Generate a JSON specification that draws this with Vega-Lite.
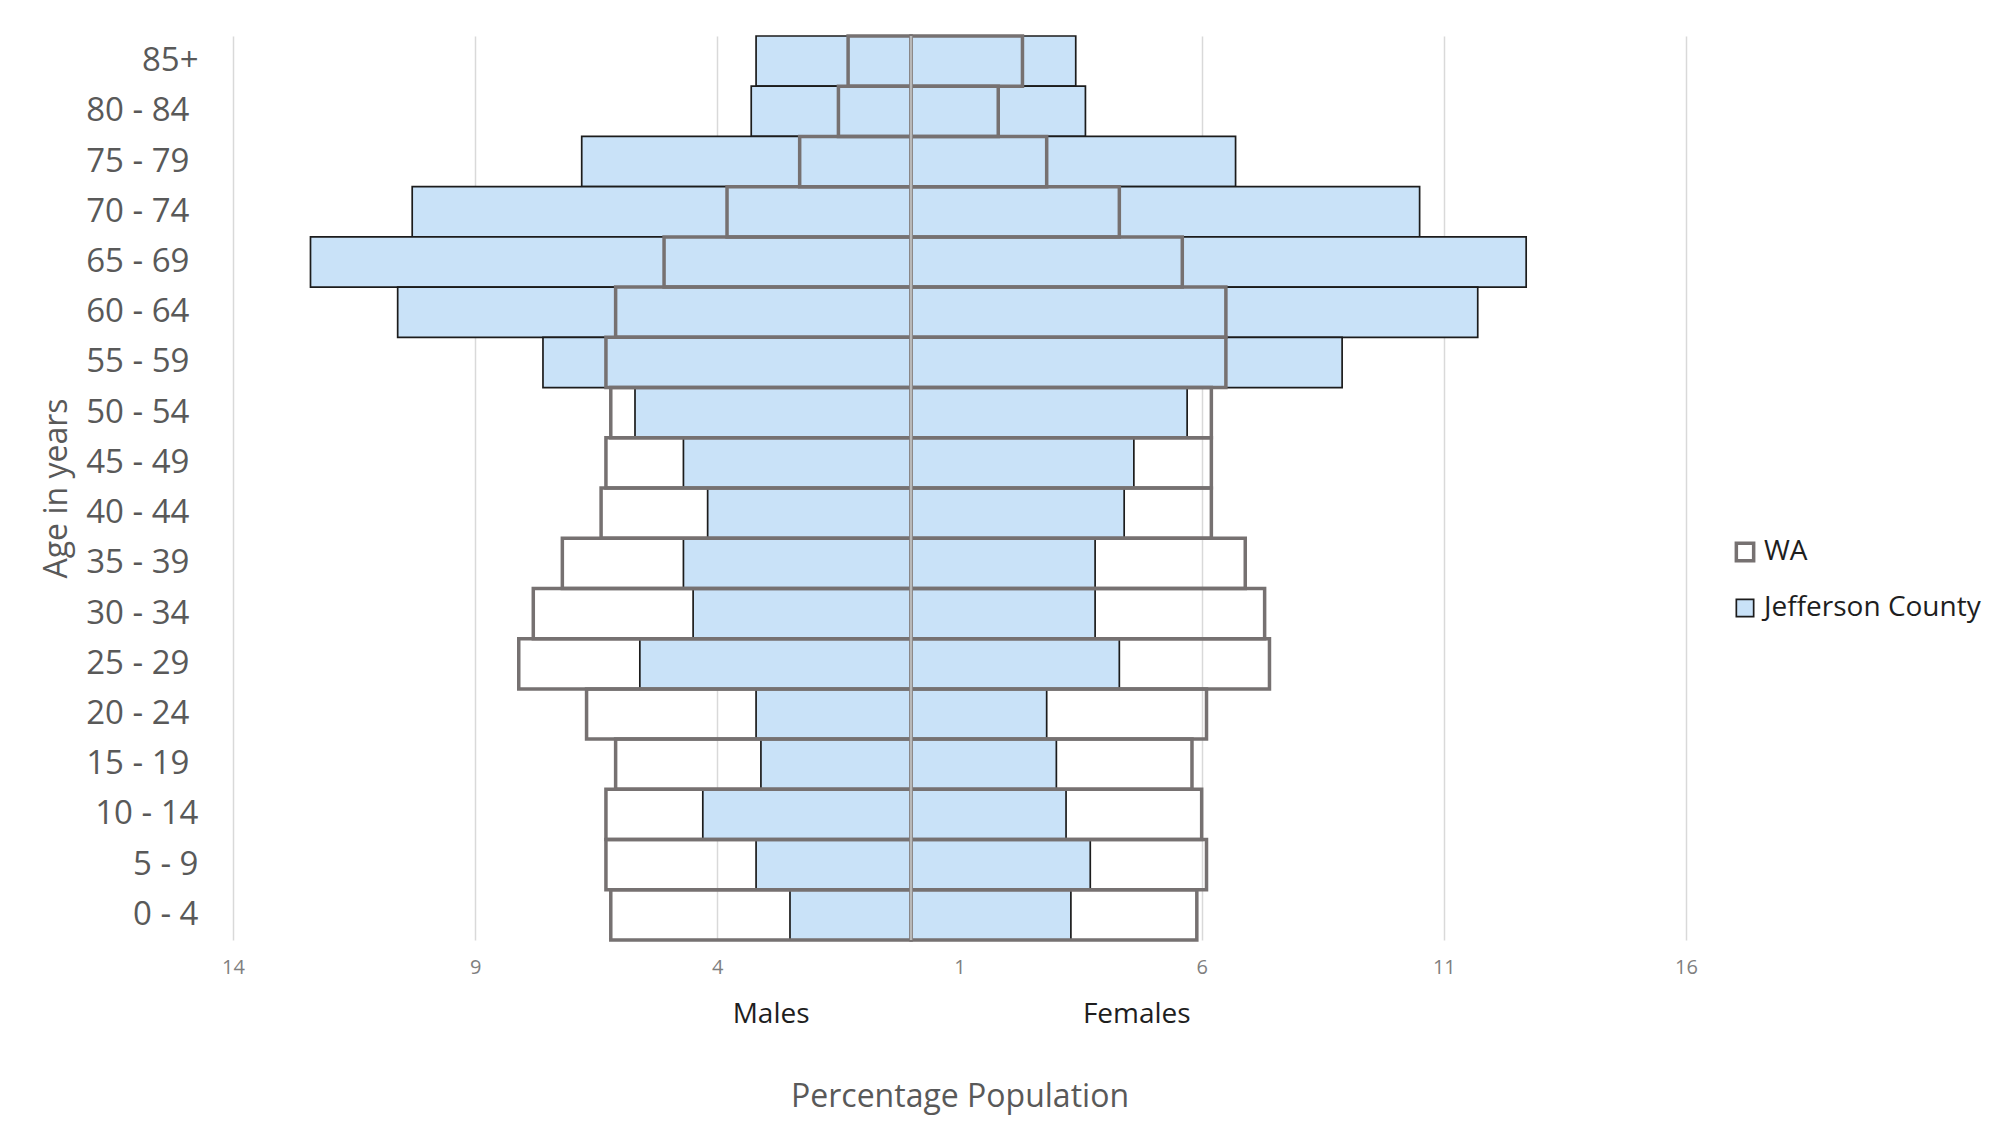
{
  "$schema": "https://vega.github.io/schema/vega-lite/v6.json",
  "width": 1453,
  "height": 904,
  "autosize": {"type": "none"},
  "padding": {"left": 233, "top": 36, "right": 312, "bottom": 200},
  "background": "white",
  "config": {"font": "Open Sans", "view": {"stroke": null}},
  "data": {
    "values": [
      {"age": "85+", "series": "Jefferson County", "sex": "Male", "pct": -3.2},
      {"age": "85+", "series": "Jefferson County", "sex": "Female", "pct": 3.4},
      {"age": "80 - 84", "series": "Jefferson County", "sex": "Male", "pct": -3.3},
      {"age": "80 - 84", "series": "Jefferson County", "sex": "Female", "pct": 3.6},
      {"age": "75 - 79", "series": "Jefferson County", "sex": "Male", "pct": -6.8},
      {"age": "75 - 79", "series": "Jefferson County", "sex": "Female", "pct": 6.7},
      {"age": "70 - 74", "series": "Jefferson County", "sex": "Male", "pct": -10.3},
      {"age": "70 - 74", "series": "Jefferson County", "sex": "Female", "pct": 10.5},
      {"age": "65 - 69", "series": "Jefferson County", "sex": "Male", "pct": -12.4},
      {"age": "65 - 69", "series": "Jefferson County", "sex": "Female", "pct": 12.7},
      {"age": "60 - 64", "series": "Jefferson County", "sex": "Male", "pct": -10.6},
      {"age": "60 - 64", "series": "Jefferson County", "sex": "Female", "pct": 11.7},
      {"age": "55 - 59", "series": "Jefferson County", "sex": "Male", "pct": -7.6},
      {"age": "55 - 59", "series": "Jefferson County", "sex": "Female", "pct": 8.9},
      {"age": "50 - 54", "series": "Jefferson County", "sex": "Male", "pct": -5.7},
      {"age": "50 - 54", "series": "Jefferson County", "sex": "Female", "pct": 5.7},
      {"age": "45 - 49", "series": "Jefferson County", "sex": "Male", "pct": -4.7},
      {"age": "45 - 49", "series": "Jefferson County", "sex": "Female", "pct": 4.6},
      {"age": "40 - 44", "series": "Jefferson County", "sex": "Male", "pct": -4.2},
      {"age": "40 - 44", "series": "Jefferson County", "sex": "Female", "pct": 4.4},
      {"age": "35 - 39", "series": "Jefferson County", "sex": "Male", "pct": -4.7},
      {"age": "35 - 39", "series": "Jefferson County", "sex": "Female", "pct": 3.8},
      {"age": "30 - 34", "series": "Jefferson County", "sex": "Male", "pct": -4.5},
      {"age": "30 - 34", "series": "Jefferson County", "sex": "Female", "pct": 3.8},
      {"age": "25 - 29", "series": "Jefferson County", "sex": "Male", "pct": -5.6},
      {"age": "25 - 29", "series": "Jefferson County", "sex": "Female", "pct": 4.3},
      {"age": "20 - 24", "series": "Jefferson County", "sex": "Male", "pct": -3.2},
      {"age": "20 - 24", "series": "Jefferson County", "sex": "Female", "pct": 2.8},
      {"age": "15 - 19", "series": "Jefferson County", "sex": "Male", "pct": -3.1},
      {"age": "15 - 19", "series": "Jefferson County", "sex": "Female", "pct": 3.0},
      {"age": "10 - 14", "series": "Jefferson County", "sex": "Male", "pct": -4.3},
      {"age": "10 - 14", "series": "Jefferson County", "sex": "Female", "pct": 3.2},
      {"age": "5 - 9", "series": "Jefferson County", "sex": "Male", "pct": -3.2},
      {"age": "5 - 9", "series": "Jefferson County", "sex": "Female", "pct": 3.7},
      {"age": "0 - 4", "series": "Jefferson County", "sex": "Male", "pct": -2.5},
      {"age": "0 - 4", "series": "Jefferson County", "sex": "Female", "pct": 3.3},
      {"age": "85+", "series": "WA", "sex": "Male", "pct": -1.3},
      {"age": "85+", "series": "WA", "sex": "Female", "pct": 2.3},
      {"age": "80 - 84", "series": "WA", "sex": "Male", "pct": -1.5},
      {"age": "80 - 84", "series": "WA", "sex": "Female", "pct": 1.8},
      {"age": "75 - 79", "series": "WA", "sex": "Male", "pct": -2.3},
      {"age": "75 - 79", "series": "WA", "sex": "Female", "pct": 2.8},
      {"age": "70 - 74", "series": "WA", "sex": "Male", "pct": -3.8},
      {"age": "70 - 74", "series": "WA", "sex": "Female", "pct": 4.3},
      {"age": "65 - 69", "series": "WA", "sex": "Male", "pct": -5.1},
      {"age": "65 - 69", "series": "WA", "sex": "Female", "pct": 5.6},
      {"age": "60 - 64", "series": "WA", "sex": "Male", "pct": -6.1},
      {"age": "60 - 64", "series": "WA", "sex": "Female", "pct": 6.5},
      {"age": "55 - 59", "series": "WA", "sex": "Male", "pct": -6.3},
      {"age": "55 - 59", "series": "WA", "sex": "Female", "pct": 6.5},
      {"age": "50 - 54", "series": "WA", "sex": "Male", "pct": -6.2},
      {"age": "50 - 54", "series": "WA", "sex": "Female", "pct": 6.2},
      {"age": "45 - 49", "series": "WA", "sex": "Male", "pct": -6.3},
      {"age": "45 - 49", "series": "WA", "sex": "Female", "pct": 6.2},
      {"age": "40 - 44", "series": "WA", "sex": "Male", "pct": -6.4},
      {"age": "40 - 44", "series": "WA", "sex": "Female", "pct": 6.2},
      {"age": "35 - 39", "series": "WA", "sex": "Male", "pct": -7.2},
      {"age": "35 - 39", "series": "WA", "sex": "Female", "pct": 6.9},
      {"age": "30 - 34", "series": "WA", "sex": "Male", "pct": -7.8},
      {"age": "30 - 34", "series": "WA", "sex": "Female", "pct": 7.3},
      {"age": "25 - 29", "series": "WA", "sex": "Male", "pct": -8.1},
      {"age": "25 - 29", "series": "WA", "sex": "Female", "pct": 7.4},
      {"age": "20 - 24", "series": "WA", "sex": "Male", "pct": -6.7},
      {"age": "20 - 24", "series": "WA", "sex": "Female", "pct": 6.1},
      {"age": "15 - 19", "series": "WA", "sex": "Male", "pct": -6.1},
      {"age": "15 - 19", "series": "WA", "sex": "Female", "pct": 5.8},
      {"age": "10 - 14", "series": "WA", "sex": "Male", "pct": -6.3},
      {"age": "10 - 14", "series": "WA", "sex": "Female", "pct": 6.0},
      {"age": "5 - 9", "series": "WA", "sex": "Male", "pct": -6.3},
      {"age": "5 - 9", "series": "WA", "sex": "Female", "pct": 6.1},
      {"age": "0 - 4", "series": "WA", "sex": "Male", "pct": -6.2},
      {"age": "0 - 4", "series": "WA", "sex": "Female", "pct": 5.9}
    ]
  },
  "layer": [
    {
      "transform": [{"filter": "datum.series === 'Jefferson County'"}],
      "mark": {"type": "bar", "strokeJoin": "miter"},
      "encoding": {
        "y": {
          "field": "age",
          "type": "nominal",
          "sort": ["85+", "80 - 84", "75 - 79", "70 - 74", "65 - 69", "60 - 64", "55 - 59", "50 - 54", "45 - 49", "40 - 44", "35 - 39", "30 - 34", "25 - 29", "20 - 24", "15 - 19", "10 - 14", "5 - 9", "0 - 4"],
          "scale": {"type": "band", "paddingInner": 0, "paddingOuter": 0},
          "axis": {
            "title": "Age in years",
            "titleFontSize": 32,
            "titleFontWeight": "normal",
            "titleColor": "#595959",
            "titlePadding": 12,
            "labelFontSize": 33,
            "labelColor": "#595959",
            "labelPadding": {
              "condition": {"test": "indexof(['85+', '10 - 14', '5 - 9', '0 - 4'], datum.value) >= 0", "value": 35},
              "value": 44
            },
            "ticks": false,
            "tickSize": 0,
            "domain": false,
            "grid": false
          }
        },
        "x": {
          "field": "pct",
          "type": "quantitative",
          "stack": null,
          "scale": {"domain": [-14, 16], "nice": false, "zero": false},
          "axis": {
            "orient": "bottom",
            "values": [-14, -9, -4, 1, 6, 11, 16],
            "labelExpr": "'' + abs(datum.value)",
            "grid": true,
            "gridColor": "#d9d9d9",
            "gridWidth": 1.5,
            "domain": false,
            "ticks": false,
            "tickSize": 0,
            "labelPadding": 17,
            "labelFontSize": 20,
            "labelColor": "#7f7f7f",
            "labelFlush": false,
            "title": "Percentage Population",
            "titleFontSize": 32,
            "titleFontWeight": "normal",
            "titleColor": "#595959",
            "titlePadding": 104
          }
        },
        "fill": {
          "field": "series",
          "type": "nominal",
          "scale": {"domain": ["WA", "Jefferson County"], "range": ["rgba(255,255,255,0)", "#c9e2f8"]},
          "legend": {
            "title": null,
            "orient": "none",
            "legendX": 1498,
            "legendY": 502,
            "padding": 0,
            "symbolType": "square",
            "symbolSize": 300,
            "labelFont": "Open Sans",
            "labelFontSize": 28,
            "labelColor": "#1e1e1e",
            "labelLimit": 0,
            "labelOffset": 5,
            "rowPadding": 26
          }
        },
        "stroke": {
          "field": "series",
          "type": "nominal",
          "scale": {"domain": ["WA", "Jefferson County"], "range": ["#767171", "#1c1c1c"]}
        },
        "strokeWidth": {
          "field": "series",
          "type": "nominal",
          "scale": {"type": "ordinal", "domain": ["WA", "Jefferson County"], "range": [3.5, 1.7]}
        }
      }
    },
    {
      "transform": [{"filter": "datum.series === 'WA'"}],
      "mark": {"type": "bar", "strokeJoin": "miter"},
      "encoding": {
        "y": {
          "field": "age",
          "type": "nominal",
          "sort": ["85+", "80 - 84", "75 - 79", "70 - 74", "65 - 69", "60 - 64", "55 - 59", "50 - 54", "45 - 49", "40 - 44", "35 - 39", "30 - 34", "25 - 29", "20 - 24", "15 - 19", "10 - 14", "5 - 9", "0 - 4"],
          "scale": {"type": "band", "paddingInner": 0, "paddingOuter": 0}
        },
        "x": {
          "field": "pct",
          "type": "quantitative",
          "stack": null,
          "scale": {"domain": [-14, 16], "nice": false, "zero": false},
          "axis": null
        },
        "fill": {
          "field": "series",
          "type": "nominal",
          "scale": {"domain": ["WA", "Jefferson County"], "range": ["rgba(255,255,255,0)", "#c9e2f8"]},
          "legend": null
        },
        "stroke": {
          "field": "series",
          "type": "nominal",
          "scale": {"domain": ["WA", "Jefferson County"], "range": ["#767171", "#1c1c1c"]},
          "legend": null
        },
        "strokeWidth": {
          "field": "series",
          "type": "nominal",
          "scale": {"type": "ordinal", "domain": ["WA", "Jefferson County"], "range": [3.5, 1.7]},
          "legend": null
        }
      }
    },
    {
      "data": {"values": [{"pct": 0}]},
      "mark": {"type": "rule", "color": "#b8b8b8", "strokeWidth": 2.5},
      "encoding": {
        "x": {
          "field": "pct",
          "type": "quantitative",
          "scale": {"domain": [-14, 16], "nice": false, "zero": false},
          "axis": {
            "orient": "bottom",
            "values": [-2.9, 4.65],
            "labelExpr": "datum.value < 0 ? 'Males' : 'Females'",
            "grid": false,
            "domain": false,
            "ticks": false,
            "tickSize": 0,
            "labelPadding": 60,
            "labelFontSize": 28,
            "labelColor": "#1e1e1e",
            "labelFlush": false,
            "labelOverlap": false,
            "title": null
          }
        }
      }
    }
  ],
  "resolve": {"axis": {"x": "independent"}}
}
